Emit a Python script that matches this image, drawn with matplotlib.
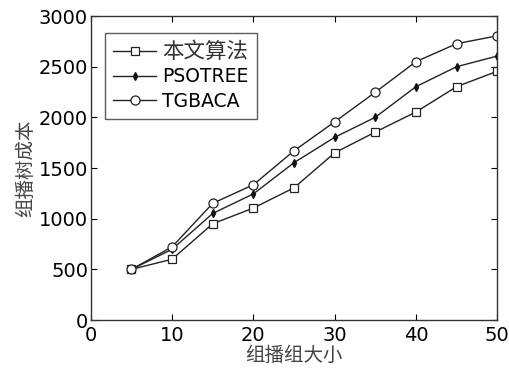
import matplotlib
matplotlib.use("Agg")
import matplotlib.pyplot as plt

plt.rcParams['font.family'] = ['DejaVu Sans', 'Noto Sans CJK SC']

x = [5, 10, 15, 20, 25, 30, 35, 40, 45, 50]
ours = [500, 600, 950, 1105, 1305, 1650, 1855, 2053, 2303, 2455]
psotree = [500, 698, 1052, 1245, 1553, 1803, 2001, 2303, 2500, 2605]
tgbaca = [500, 722, 1152, 1335, 1670, 1956, 2248, 2550, 2727, 2805]
labels = ['本文算法', 'PSOTREE', 'TGBACA']
xticks = [0, 10, 20, 30, 40, 50]
yticks = [0, 500, 1000, 1500, 2000, 2500, 3000]

fig = plt.figure(figsize=(5.10, 3.73), dpi=100)
ax = fig.add_axes([0.178, 0.142, 0.797, 0.815])

ax.plot(x, ours, '-', color='#222222', lw=1.0, marker='s', ms=5.5, mfc='white', mec='#222222', mew=0.9, label=labels[0])
ax.plot(x, psotree, '-', color='#222222', lw=1.0, marker='d', ms=4, mfc='#111111', mec='#111111', label=labels[1])
ax.plot(x, tgbaca, '-', color='#222222', lw=1.0, marker='o', ms=6.5, mfc='white', mec='#222222', mew=0.9, label=labels[2])

ax.set_xlim(0, 50)
ax.set_ylim(0, 3000)
ax.set_xticks(xticks)
ax.set_yticks(yticks)
ax.tick_params(direction='in', top=True, right=True, labelsize=14, length=4)
ax.tick_params(axis='x', pad=4)
ax.tick_params(axis='y', pad=2)
for s in ax.spines.values():
    s.set_linewidth(1.0)
    s.set_color('#333333')

ax.set_xlabel('组播组大小', family=['Noto Sans CJK SC'], fontsize=14, color='#444444', labelpad=0)
ax.set_ylabel('组播树成本', family=['Noto Sans CJK SC'], fontsize=14, color='#444444', labelpad=2)

leg = ax.legend(loc='upper left', bbox_to_anchor=(0.034, 0.945), fancybox=False, edgecolor='#333333',
                prop={'family': ['DejaVu Sans', 'Noto Sans CJK SC'], 'size': 13.5},
                handlelength=2.3, handletextpad=0.3, borderpad=0.45, labelspacing=0.3, borderaxespad=0)
leg.get_frame().set_linewidth(1.0)
leg.get_texts()[0].set_fontsize(15.5)
leg.get_texts()[0].set_color('#333333')

fig.savefig('out.png', dpi=100)
